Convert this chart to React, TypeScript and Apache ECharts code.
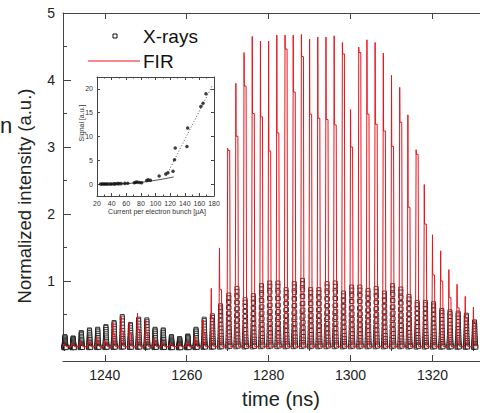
import React, { useEffect, useRef } from 'react';
import * as echarts from 'echarts';

// ---------- main panel data (one entry per electron bunch, 2 ns spacing) ----------
const BUNCH_TIMES = [
  1230, 1232, 1234, 1236, 1238, 1240, 1242, 1244, 1246, 1248,
  1250, 1252, 1254, 1256, 1258, 1260, 1262, 1264, 1266, 1268,
  1270, 1272, 1274, 1276, 1278, 1280, 1282, 1284, 1286, 1288,
  1290, 1292, 1294, 1296, 1298, 1300, 1302, 1304, 1306, 1308,
  1310, 1312, 1314, 1316, 1318, 1320, 1322, 1324, 1326, 1328, 1330,
];
// FIR trace: spike height and the shoulder right after it
const FIR_PEAK = [
  0.06, 0.08, 0.10, 0.14, 0.17, 0.12, 0.38, 0.47, 0.39, 0.52,
  0.42, 0.15, 0.10, 0.08, 0.07, 0.10, 0.17, 0.42, 0.89, 1.49,
  2.98, 3.95, 4.41, 4.65, 4.58, 4.58, 4.67, 4.67, 4.67, 4.68,
  4.61, 4.64, 4.64, 4.66, 4.56, 3.56, 4.49, 4.60, 4.56, 4.40,
  4.07, 3.89, 3.48, 2.96, 2.44, 1.69, 1.45, 1.17, 0.95, 0.77, 0.61,
];
const FIR_SHOULDER = [
  0.04, 0.05, 0.06, 0.08, 0.10, 0.08, 0.20, 0.25, 0.22, 0.28,
  0.22, 0.09, 0.06, 0.05, 0.05, 0.06, 0.10, 0.22, 0.45, 0.87,
  2.95, 3.16, 3.91, 3.50, 3.45, 2.94, 3.21, 4.46, 3.82, 4.35,
  3.49, 3.43, 3.41, 3.33, 4.39, 3.00, 4.41, 3.49, 3.34, 3.24,
  3.01, 3.37, 2.10, 2.89, 1.85, 1.09, 1.00, 0.75, 0.60, 0.45, 0.38,
];
const FIR_BASELINE = 0.02;
// X-ray pulse maxima per bunch
const XRAY_PEAK = [
  0.17, 0.15, 0.23, 0.27, 0.28, 0.32, 0.38, 0.47, 0.35, 0.43,
  0.42, 0.28, 0.27, 0.17, 0.14, 0.18, 0.28, 0.43, 0.48, 0.63,
  0.79, 0.89, 0.72, 0.78, 0.93, 0.97, 0.97, 0.87, 0.96, 1.01,
  0.87, 0.87, 0.96, 0.97, 0.82, 0.91, 0.91, 0.86, 0.89, 0.82,
  0.93, 0.88, 0.77, 0.68, 0.68, 0.66, 0.56, 0.54, 0.52, 0.49, 0.39,
];
// relative sample levels within one X-ray pulse (rise then fall)
const XRAY_PULSE_PROFILE = [
  0.02, 0.05, 0.09, 0.14, 0.2, 0.27, 0.35, 0.44, 0.54, 0.65, 0.77, 0.89, 1.0,
  0.95, 0.86, 0.76, 0.66, 0.56, 0.47, 0.38, 0.3, 0.23, 0.17, 0.12, 0.08, 0.05, 0.03,
];

const X_MAJOR_TICKS = [1240, 1260, 1280, 1300, 1320];
const X_MINOR_TICKS = [1230, 1250, 1270, 1290, 1310, 1330];
const Y_LABELS = [1, 2, 3, 4, 5];
const Y_MAJOR_TICKS = [0, 1, 2, 3, 4, 5];
const Y_MINOR_TICKS = [0.5, 1.5, 2.5, 3.5, 4.5];

// ---------- inset data ----------
const INSET_CURRENT = [25, 27, 29, 31, 33, 35, 38, 40, 43, 45, 48, 50, 53, 58, 62, 71, 73, 75, 78, 81, 88, 90, 93, 105, 114, 117, 124, 126, 127, 144, 143, 162, 165, 169];
const INSET_SIGNAL = [0, 0, 0, 0, 0, 0, 0, 0, 0.05, 0.05, 0.1, 0.1, 0.1, 0.15, 0.2, 0.3, 0.4, 0.45, 0.35, 0.3, 0.75, 0.9, 0.8, 1.7, 2.1, 2.4, 2.7, 5.1, 7.6, 11.8, 7.9, 16.3, 17.0, 19.0];
const INSET_LOW_FIT_X = [25, 50, 75, 100, 125];
const INSET_LOW_FIT_Y = [-0.05, 0.05, 0.3, 0.8, 1.5];
const INSET_HIGH_FIT_X = [115, 178];
const INSET_HIGH_FIT_Y = [1.8, 20.8];
const INSET_Y_TICKS = [0, 5, 10, 15, 20];

const FONT = 'Liberation Sans, Arial, Helvetica, sans-serif';
const AXIS_COLOR = '#444';
const RED = '#e8141b';

export default function App() {
  const ref = useRef<HTMLDivElement>(null);

  useEffect(() => {
    const chart = echarts.init(ref.current!, null, { renderer: 'svg' });

    const firData: number[][] = [[1229.8, FIR_BASELINE]];
    BUNCH_TIMES.forEach((t, i) => {
      firData.push(
        [t - 0.15, FIR_BASELINE],
        [t, FIR_PEAK[i]],
        [t + 0.06, FIR_SHOULDER[i]],
        [t + 0.5, FIR_SHOULDER[i]],
        [t + 0.62, FIR_BASELINE],
      );
    });

    const xrayData: number[][] = [];
    BUNCH_TIMES.forEach((t, i) => {
      XRAY_PULSE_PROFILE.forEach((f, k) => {
        xrayData.push([t + k * 0.022, XRAY_PEAK[i] * f]);
      });
    });

    const insetPoints = INSET_CURRENT.map((c, i) => [c, INSET_SIGNAL[i]]);
    const lowFit = INSET_LOW_FIT_X.map((c, i) => [c, INSET_LOW_FIT_Y[i]]);
    const highFit = INSET_HIGH_FIT_X.map((c, i) => [c, INSET_HIGH_FIT_Y[i]]);

    const lineStyle = { color: AXIS_COLOR, width: 1 };
    const X_MIN = 1229.8;
    const X_MAX = 1331.6;
    const plain = (v: number) => String(v);

    const mainX = (extra: any) => ({
      gridIndex: 0,
      type: 'value',
      min: X_MIN,
      max: X_MAX,
      splitLine: { show: false },
      ...extra,
    });
    const mainY = (extra: any) => ({
      gridIndex: 0,
      type: 'value',
      min: -0.03,
      max: 5,
      splitLine: { show: false },
      ...extra,
    });

    const option: any = {
      animation: false,
      backgroundColor: '#fff',
      grid: [
        { left: 63, right: 0, top: 13, bottom: 63 },
        { left: 97, top: 77, width: 117, height: 119, backgroundColor: '#fff', show: true, borderWidth: 0 },
      ],
      xAxis: [
        mainX({
          position: 'bottom',
          offset: 11,
          axisLine: { show: true, onZero: false, lineStyle },
          axisTick: { show: true, inside: true, length: 6, customValues: X_MAJOR_TICKS, lineStyle },
          axisLabel: { customValues: X_MAJOR_TICKS, formatter: plain, fontSize: 14, color: '#222', margin: 7, fontFamily: FONT },
        }),
        mainX({
          position: 'bottom',
          offset: 11,
          axisLine: { show: false },
          axisTick: { show: true, inside: true, length: 3, customValues: X_MINOR_TICKS, lineStyle },
          axisLabel: { show: false },
        }),
        mainX({
          position: 'top',
          axisLine: { show: true, onZero: false, lineStyle },
          axisTick: { show: true, inside: true, length: 6, customValues: X_MAJOR_TICKS, lineStyle },
          axisLabel: { show: false },
        }),
        mainX({
          position: 'top',
          axisLine: { show: false },
          axisTick: { show: true, inside: true, length: 3, customValues: X_MINOR_TICKS, lineStyle },
          axisLabel: { show: false },
        }),
        {
          gridIndex: 1,
          type: 'value',
          min: 20,
          max: 180,
          interval: 20,
          position: 'bottom',
          splitLine: { show: false },
          axisLine: { show: true, onZero: false, lineStyle },
          axisTick: { show: true, inside: true, length: 3, lineStyle },
          minorTick: { show: true, splitNumber: 2, length: 1.5, lineStyle },
          axisLabel: { formatter: plain, fontSize: 7, color: '#333', margin: 4, fontFamily: FONT },
        },
        {
          gridIndex: 1,
          type: 'value',
          min: 20,
          max: 180,
          interval: 20,
          position: 'top',
          splitLine: { show: false },
          axisLine: { show: true, onZero: false, lineStyle },
          axisTick: { show: true, inside: true, length: 3, lineStyle },
          minorTick: { show: true, splitNumber: 2, length: 1.5, lineStyle },
          axisLabel: { show: false },
        },
      ],
      yAxis: [
        mainY({
          position: 'left',
          axisLine: { show: true, onZero: false, lineStyle },
          axisTick: { show: true, inside: true, length: 8, customValues: Y_MAJOR_TICKS, lineStyle },
          axisLabel: { customValues: Y_LABELS, formatter: plain, fontSize: 14, color: '#222', margin: 8, fontFamily: FONT },
        }),
        mainY({
          position: 'left',
          axisLine: { show: false },
          axisTick: { show: true, inside: true, length: 4, customValues: Y_MINOR_TICKS, lineStyle },
          axisLabel: { show: false },
        }),
        {
          gridIndex: 1,
          type: 'value',
          min: -2.5,
          max: 22.5,
          position: 'left',
          splitLine: { show: false },
          axisLine: { show: true, onZero: false, lineStyle },
          axisTick: { show: true, inside: true, length: 3, customValues: INSET_Y_TICKS, lineStyle },
          axisLabel: { customValues: INSET_Y_TICKS, formatter: plain, fontSize: 7, color: '#333', margin: 4, fontFamily: FONT },
        },
        {
          gridIndex: 1,
          type: 'value',
          min: -2.5,
          max: 22.5,
          position: 'right',
          splitLine: { show: false },
          axisLine: { show: true, onZero: false, lineStyle },
          axisTick: { show: true, inside: true, length: 3, customValues: INSET_Y_TICKS, lineStyle },
          axisLabel: { show: false },
        },
      ],
      series: [
        {
          name: 'X-rays',
          type: 'scatter',
          xAxisIndex: 0,
          yAxisIndex: 0,
          data: xrayData,
          symbol: 'rect',
          symbolSize: 4,
          clip: false,
          itemStyle: { color: '#fff', borderColor: '#111', borderWidth: 1 },
          z: 2,
        },
        {
          name: 'FIR',
          type: 'line',
          xAxisIndex: 0,
          yAxisIndex: 0,
          data: firData,
          showSymbol: false,
          symbol: 'none',
          lineStyle: { color: RED, width: 1 },
          z: 3,
        },
        {
          type: 'line',
          xAxisIndex: 4,
          yAxisIndex: 2,
          data: lowFit,
          showSymbol: false,
          symbol: 'none',
          smooth: true,
          lineStyle: { color: '#222', width: 0.8 },
          z: 5,
        },
        {
          type: 'line',
          xAxisIndex: 4,
          yAxisIndex: 2,
          data: highFit,
          showSymbol: false,
          symbol: 'none',
          lineStyle: { color: '#222', width: 0.8, type: [1, 2] },
          z: 5,
        },
        {
          type: 'scatter',
          xAxisIndex: 4,
          yAxisIndex: 2,
          data: insetPoints,
          symbol: 'circle',
          symbolSize: 3.5,
          itemStyle: { color: '#111' },
          z: 6,
        },
      ],
      graphic: [
        // legend
        {
          type: 'rect',
          shape: { x: 113, y: 34, width: 4, height: 4 },
          style: { fill: '#fff', stroke: '#111', lineWidth: 1 },
          z: 10,
        },
        {
          type: 'line',
          shape: { x1: 88, y1: 61, x2: 140, y2: 61 },
          style: { stroke: RED, lineWidth: 1 },
          z: 10,
        },
        {
          type: 'text',
          x: 143,
          y: 36,
          style: { text: 'X-rays', fontSize: 19, fill: '#111', fontFamily: FONT, textVerticalAlign: 'middle' },
          z: 10,
        },
        {
          type: 'text',
          x: 143,
          y: 61,
          style: { text: 'FIR', fontSize: 19, fill: '#111', fontFamily: FONT, textVerticalAlign: 'middle' },
          z: 10,
        },
        // axis titles
        {
          type: 'text',
          x: 24,
          y: 196,
          rotation: Math.PI / 2,
          style: {
            text: 'Normalized intensity (a.u.)',
            fontSize: 18.5,
            fill: '#222',
            fontFamily: FONT,
            textAlign: 'center',
            textVerticalAlign: 'middle',
          },
        },
        {
          type: 'text',
          x: 281,
          y: 399,
          style: {
            text: 'time (ns)',
            fontSize: 20,
            fill: '#222',
            fontFamily: FONT,
            textAlign: 'center',
            textVerticalAlign: 'middle',
          },
        },
        // inset axis titles
        {
          type: 'text',
          x: 81,
          y: 123,
          rotation: Math.PI / 2,
          style: {
            text: 'Signal [a.u.]',
            fontSize: 7,
            fill: '#333',
            fontFamily: FONT,
            textAlign: 'center',
            textVerticalAlign: 'middle',
          },
        },
        {
          type: 'text',
          x: 157,
          y: 211,
          style: {
            text: 'Current per electron bunch [µA]',
            fontSize: 7,
            fill: '#333',
            fontFamily: FONT,
            textAlign: 'center',
            textVerticalAlign: 'middle',
          },
        },
        // stray letter at the left edge
        {
          type: 'text',
          x: 0,
          y: 125,
          style: { text: 'n', fontSize: 22, fill: '#222', fontFamily: FONT, textVerticalAlign: 'middle' },
        },
      ],
    };

    chart.setOption(option);
    return () => chart.dispose();
  }, []);

  return (
    <div
      ref={ref}
      style={{ position: 'absolute', left: 0, top: 0, width: 480, height: 413, background: '#fff' }}
    />
  );
}
